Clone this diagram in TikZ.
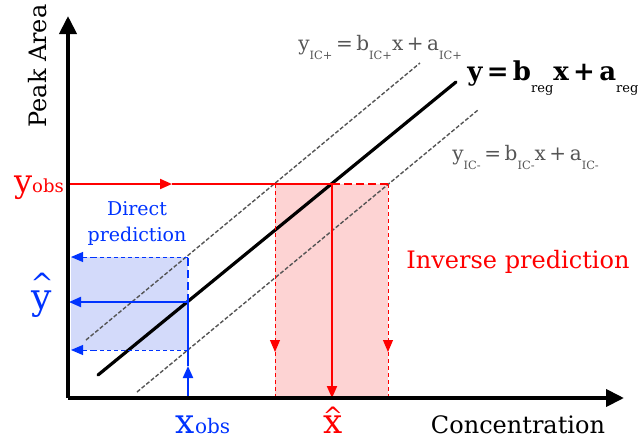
\documentclass[tikz,border=0pt]{standalone}
\usepackage{fontspec}
\setmainfont{DejaVu Serif}
\usepackage{xcolor}
\usetikzlibrary{
  arrows.meta,
  positioning,
}
\definecolor{obsred}{HTML}{FF0000}
\definecolor{obsblue}{HTML}{0033FF}
\definecolor{shadered}{HTML}{FDD3D3}
\definecolor{shadeblue}{HTML}{D3DAFA}
\definecolor{icgray}{HTML}{555555}
\newcommand{\lowsub}[2][5.7]{\raisebox{-0.9ex}{\mdseries\fontsize{#1}{#1}\selectfont #2}}
\newcommand{\hatted}[3][12]{\ooalign{\hfil\raisebox{#2}{\fontsize{#1}{#1}\selectfont\textasciicircum}\hfil\cr\hfil #3\hfil\cr}}
\newcommand{\eqsp}{\kern1.8pt}

\begin{document}
\begin{tikzpicture}[x=0.5pt, y=-0.5pt,
    axis/.style={line width=2pt, -{Triangle[length=9pt, width=8.5pt]}},
    regline/.style={line width=1.6pt, line cap=round},
    icline/.style={icgray, line width=0.7pt, dash pattern=on 2pt off 1pt},
    redline/.style={obsred, line width=1pt},
    reddash/.style={obsred, line width=0.5pt, dash pattern=on 2pt off 1.5pt},
    bluline/.style={obsblue, line width=1pt},
    bludash/.style={obsblue, line width=0.5pt, dash pattern=on 2pt off 1.5pt},
    tip/.style={-{Triangle[length=6pt, width=5pt]}},
    lbl/.style={font=\fontsize{12}{14}\selectfont},
    big/.style={font=\fontsize{17}{18}\selectfont},
    eqn/.style={icgray, anchor=base west, inner sep=0pt, font=\fontsize{10}{12}\selectfont},
  ]
  \useasboundingbox (0,0) rectangle (639,441);

  % axes and lines
  \coordinate (O)     at (68,398);
  \coordinate (ytop)  at (68,16);
  \coordinate (xend)  at (624,398);
  \coordinate (reg1)  at (98,375);
  \coordinate (reg2)  at (456,82);
  \coordinate (icp1)  at (86,340);
  \coordinate (icp2)  at (420,63);
  \coordinate (icm1)  at (137,392);
  \coordinate (icm2)  at (478,110);

  % inverse prediction
  \coordinate (yobs)    at (68,184);
  \coordinate (yobsarr) at (172,184);
  \coordinate (ltop)    at (275,184);
  \coordinate (xhattop) at (332,184);
  \coordinate (rtop)    at (388,184);
  \coordinate (xhatbot) at (332,398);
  \coordinate (larr)    at (275,352);
  \coordinate (lbot)    at (275,398);
  \coordinate (rarr)    at (388,352);
  \coordinate (rbot)    at (388,398);

  % direct prediction
  \coordinate (xobs)    at (188,398);
  \coordinate (xobsarr) at (188,366);
  \coordinate (ypt)     at (188,302);
  \coordinate (yhatend) at (69,302);
  \coordinate (uppt)    at (188,257);
  \coordinate (uparr)   at (94,257);
  \coordinate (upend)   at (71,257);
  \coordinate (lopt)    at (188,350);
  \coordinate (loarr)   at (94,350);
  \coordinate (loend)   at (71,350);

  \fill[shadered] (ltop) rectangle (rbot);
  \fill[shadeblue] (upend) rectangle (lopt);

  \draw[icline] (icp1) -- (icp2);
  \draw[icline] (icm1) -- (icm2);
  \draw[regline] (reg1) -- (reg2);

  \draw[redline, tip] (yobs) -- (yobsarr);
  \draw[redline] (yobsarr) -- (xhattop);
  \draw[redline, dash pattern=on 4pt off 2pt] (xhattop) -- (rtop);
  \draw[redline, tip] (xhattop) -- (xhatbot);
  \draw[reddash, tip] (ltop) -- (larr);
  \draw[reddash] (larr) -- (lbot);
  \draw[reddash, tip] (rtop) -- (rarr);
  \draw[reddash] (rarr) -- (rbot);

  \draw[bluline, tip] (xobs) -- (xobsarr);
  \draw[bluline] (xobsarr) -- (ypt);
  \draw[bluline, tip] (ypt) -- (yhatend);
  \draw[bluline, dash pattern=on 4pt off 2pt] (ypt) -- (uppt);
  \draw[bludash] (uppt) -- (uparr);
  \draw[bludash, tip] (uparr) -- (upend);
  \draw[bluline, dash pattern=on 4pt off 2pt] (ypt) -- (lopt);
  \draw[bludash] (lopt) -- (loarr);
  \draw[bludash, tip] (loarr) -- (loend);

  \draw[axis] (O) -- (ytop);
  \draw[axis] (O) -- (xend);

  % labels
  \node[lbl, rotate=90] (ylab) at (38,66) {Peak Area};
  \node[lbl, anchor=base] (xlab) at (518,433) {Concentration};
  \node[obsred, anchor=base] (yobslab) at (39,192)
    {\fontsize{16}{18}\selectfont y\fontsize{9}{10}\selectfont obs};
  \node[obsblue, anchor=base] (xobslab) at (203,433)
    {\fontsize{17}{18}\selectfont x\fontsize{10}{10}\selectfont obs};
  \node[obsblue, font=\fontsize{18}{18}\selectfont, anchor=base, inner sep=0pt] (yhatlab) at (42,309)
    {\hatted[14]{8pt}{y}};
  \node[obsred, big, anchor=base, inner sep=0pt] (xhatlab) at (333,433)
    {\hatted{4.5pt}{x}};
  \node[obsblue, align=center, font=\fontsize{9.5}{13}\selectfont] (directlab) at (137,223)
    {Direct\\prediction};
  \node[obsred, lbl] (inverselab) at (518,262) {Inverse prediction};
  \node[eqn] (icplab) at (298,50)
    {y\lowsub{IC+}\eqsp=\eqsp b\lowsub{IC+}x\eqsp+\eqsp a\lowsub{IC+}};
  \node[eqn] (icmlab) at (452,160)
    {y\lowsub{IC-}\eqsp=\eqsp b\lowsub{IC-}x\eqsp+\eqsp a\lowsub{IC-}};
  \node[anchor=base west, inner sep=0pt, font=\bfseries\fontsize{13}{16}\selectfont] (reglab) at (467,80)
    {y\,=\,b\lowsub[6.5]{reg}x\,+\,a\lowsub[6.5]{reg}};
\end{tikzpicture}
\end{document}
